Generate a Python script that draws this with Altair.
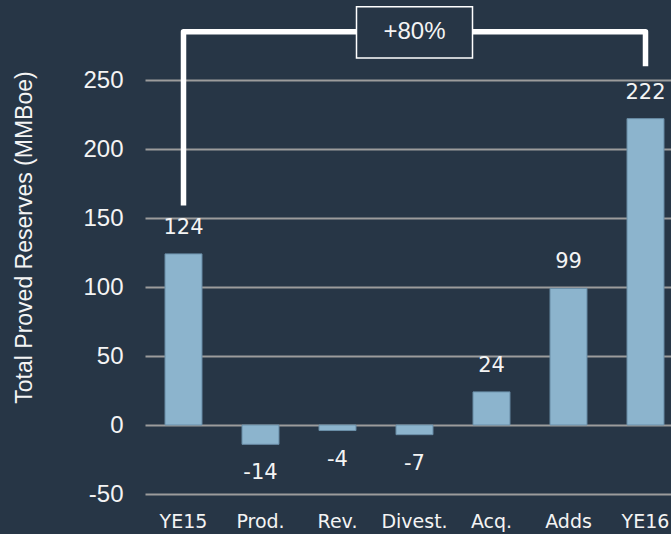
import altair as alt
import pandas as pd

# Reserves roll-forward, MMBoe
categories = ["YE15", "Prod.", "Rev.", "Divest.", "Acq.", "Adds", "YE16"]
values = [124, -14, -4, -7, 24, 99, 222]

# Growth bracket from YE15 to YE16
bracket_cats = ["YE15", "YE15", "YE16", "YE16"]
bracket_vals = [159, 285, 285, 260]
bracket_order = [0, 1, 2, 3]
growth_label = "+80%"
growth_cat = "Divest."
growth_box = (266, 303)

BG = "#273646"
BAR = "#8cb4cd"
BAR_EDGE = "#6b8fa8"
GRID = "#9c9c9c"
TEXT = "#f4f4f4"

bars_df = pd.DataFrame({"cat": categories, "val": values})
bracket_df = pd.DataFrame({"cat": bracket_cats, "val": bracket_vals, "o": bracket_order})
box_df = pd.DataFrame({"cat": [growth_cat], "lo": [growth_box[0]], "hi": [growth_box[1]],
                       "mid": [bracket_vals[1]], "label": [growth_label]})

x_scale = alt.Scale(domain=categories, range=[0, 539], paddingInner=0.52, paddingOuter=0.26)
y_scale = alt.Scale(domain=[-50, 250], nice=False)

x_enc = alt.X("cat:N", scale=x_scale, sort=categories,
              axis=alt.Axis(title=None, labelAngle=0, domain=False, ticks=False,
                            labelPadding=18, labelFont="DejaVu Sans", labelFontSize=19,
                            labelColor=TEXT))
y_enc = alt.Y("val:Q", scale=y_scale,
              axis=alt.Axis(title="Total Proved Reserves (MMBoe)", values=[-50, 0, 50, 100, 150, 200, 250],
                            labelExpr="'' + datum.value",
                            domain=False, ticks=False, grid=True, gridColor=GRID, gridWidth=2,
                            labelPadding=22, labelFont="Liberation Sans", labelFontSize=24,
                            labelColor=TEXT, titleFont="Liberation Sans", titleFontSize=23,
                            titleFontWeight="normal", titleColor=TEXT, titleX=-121, titleY=157,
                            titleBaseline="middle", titleAlign="center", titleAngle=-90))

bars = alt.Chart(bars_df).mark_bar(color=BAR, stroke=BAR_EDGE, strokeWidth=1).encode(x=x_enc, y=y_enc)

label_base = alt.Chart(bars_df).transform_calculate(txt="'' + datum.val")

pos_labels = label_base.transform_filter("datum.val >= 0").mark_text(
    font="DejaVu Sans", fontSize=21, color=TEXT, baseline="middle", dy=-26
).encode(x=alt.X("cat:N", scale=x_scale, sort=categories), y=alt.Y("val:Q", scale=y_scale), text="txt:N")

neg_labels = label_base.transform_filter("datum.val < 0").mark_text(
    font="DejaVu Sans", fontSize=21, color=TEXT, baseline="middle", dy=29
).encode(x=alt.X("cat:N", scale=x_scale, sort=categories), y=alt.Y("val:Q", scale=y_scale), text="txt:N")

bracket = alt.Chart(bracket_df).mark_line(color="white", strokeWidth=5.5, strokeJoin="round").encode(
    x=alt.X("cat:N", scale=x_scale, sort=categories),
    y=alt.Y("val:Q", scale=y_scale),
    order="o:Q",
)

box = alt.Chart(box_df).mark_bar(size=116, fill=BG, stroke="white", strokeWidth=1.5).encode(
    x=alt.X("cat:N", scale=x_scale, sort=categories),
    y=alt.Y("lo:Q", scale=y_scale),
    y2="hi:Q",
)

box_text = alt.Chart(box_df).mark_text(font="Liberation Sans", fontSize=24, color=TEXT,
                                       baseline="middle").encode(
    x=alt.X("cat:N", scale=x_scale, sort=categories),
    y=alt.Y("mid:Q", scale=y_scale),
    text="label:N",
)

chart = alt.layer(bars, pos_labels, neg_labels, bracket, box, box_text).properties(
    width=526,
    height=414,
    autosize=alt.AutoSizeParams(type="none"),
    padding={"left": 145, "top": 80, "right": 0, "bottom": 40},
    background=BG,
).configure_view(stroke=None)

chart.save("out.html", embed_options={"renderer": "svg", "actions": False})
